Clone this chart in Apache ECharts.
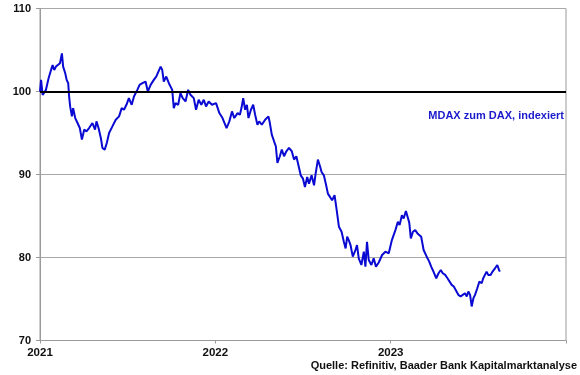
<!DOCTYPE html>
<html>
<head>
<meta charset="utf-8">
<script src="https://cdn.jsdelivr.net/npm/echarts@6/dist/echarts.min.js"></script>
<style>html,body{margin:0;padding:0;background:#fff}#c{width:580px;height:375px}</style>
</head>
<body>
<div id="c"></div>
<script>
// Time in decimal years (2021.0 = start of 2021)
var years = [
2021.000,2021.006,2021.015,2021.024,2021.034,2021.049,2021.063,2021.072,2021.081,2021.091,
2021.101,2021.114,2021.125,2021.132,2021.144,2021.152,2021.161,2021.166,2021.172,2021.182,
2021.189,2021.201,2021.214,2021.227,2021.239,2021.252,2021.265,2021.280,2021.299,2021.314,
2021.322,2021.334,2021.347,2021.356,2021.369,2021.381,2021.394,2021.413,2021.432,2021.451,
2021.466,2021.479,2021.493,2021.507,2021.523,2021.536,2021.555,2021.568,2021.584,2021.602,
2021.615,2021.631,2021.649,2021.663,2021.674,2021.688,2021.697,2021.706,2021.720,2021.735,
2021.754,2021.763,2021.773,2021.788,2021.801,2021.814,2021.830,2021.845,2021.858,2021.877,
2021.890,2021.905,2021.920,2021.934,2021.947,2021.962,2021.981,
2022.004,2022.023,2022.041,2022.064,2022.080,2022.095,2022.108,2022.127,2022.140,2022.149,
2022.159,2022.170,2022.180,2022.189,2022.203,2022.216,2022.227,2022.240,2022.250,2022.265,
2022.284,2022.303,2022.311,2022.322,2022.335,2022.345,2022.354,2022.368,2022.379,2022.392,
2022.405,2022.420,2022.436,2022.449,2022.462,2022.473,2022.487,2022.500,2022.511,2022.524,
2022.534,2022.549,2022.563,2022.572,2022.585,2022.597,2022.606,2022.619,2022.632,2022.642,
2022.652,2022.666,2022.680,2022.691,2022.705,2022.720,2022.733,2022.743,2022.752,2022.761,
2022.771,2022.784,2022.799,2022.808,2022.818,2022.833,2022.847,2022.856,2022.865,2022.875,
2022.890,2022.903,2022.916,2022.932,2022.951,2022.970,2022.989,
2023.007,2023.027,2023.041,2023.051,2023.064,2023.074,2023.087,2023.097,2023.106,2023.115,
2023.127,2023.140,2023.153,2023.163,2023.174,2023.188,2023.197,2023.210,2023.220,2023.231,
2023.240,2023.250,2023.260,2023.273,2023.286,2023.297,2023.311,2023.324,2023.335,2023.348,
2023.360,2023.371,2023.386,2023.399,2023.411,2023.424,2023.434,2023.443,2023.453,2023.462,
2023.472,2023.481,2023.494,2023.506,2023.519,2023.528,2023.538,2023.547,2023.557,2023.570,
2023.581,2023.595,2023.608,2023.618,2023.623
];
// MDAX relative to DAX, indexed (start = 100)
var mdaxRel = [
100.0,101.4,99.6,99.6,100.2,101.6,102.6,103.2,102.6,103.0,
102.8,103.4,104.6,103.0,102.2,101.4,101.0,99.4,98.2,97.0,
98.0,96.8,96.2,95.6,94.2,95.4,95.2,95.6,96.2,95.4,
96.4,95.6,94.4,93.2,93.0,93.8,95.0,95.8,96.6,97.0,
98.0,97.8,98.4,99.2,98.4,99.4,100.2,100.8,101.0,101.2,
100.0,100.8,101.4,101.8,101.6,103.0,102.6,101.2,101.8,101.0,
100.2,98.0,98.6,98.4,99.8,99.2,98.8,100.2,99.6,99.2,
97.8,99.0,98.4,99.0,98.2,98.8,98.4,
98.6,97.4,96.8,95.6,96.4,97.6,96.8,97.4,97.2,98.0,
99.2,97.8,98.4,96.8,97.8,98.4,97.2,96.0,96.4,96.0,
96.6,97.0,96.2,94.8,94.0,93.4,91.4,92.2,93.0,92.2,
92.8,93.2,92.8,91.8,92.2,91.2,89.9,89.5,88.5,89.7,
88.9,89.9,88.7,90.1,91.8,91.0,90.3,89.9,88.7,87.7,
87.9,86.9,87.5,85.9,83.7,83.1,81.9,81.1,82.5,82.1,
81.5,80.1,80.9,81.5,79.9,79.1,80.7,78.9,81.9,79.7,
79.1,79.9,78.9,79.4,80.3,80.7,80.5,
82.1,83.3,84.3,83.9,85.1,84.7,85.6,85.5,84.2,82.3,
83.1,83.3,82.9,83.1,82.5,80.9,81.1,79.9,79.5,78.9,
78.5,78.7,77.5,78.1,78.5,78.1,77.9,77.5,77.7,76.7,
76.5,76.3,75.5,75.3,75.5,75.7,75.3,75.9,75.5,74.1,
75.1,75.5,76.3,77.1,76.9,77.5,77.3,78.3,77.9,77.9,
78.3,78.7,79.1,78.5,78.3
];
var yTicks = [70, 80, 90, 100, 110];
var xTickYears = [2021, 2022, 2023];
var refLevel = 100;
var seriesLabel = 'MDAX zum DAX, indexiert';
var sourceText = 'Quelle: Refinitiv, Baader Bank Kapitalmarktanalyse';

var data = years.map(function (y, i) { return [y, mdaxRel[i]]; });
var font = '"Liberation Sans", Arial, sans-serif';

var chart = echarts.init(document.getElementById('c'), null, {renderer: 'canvas'});
chart.setOption({
  animation: false,
  backgroundColor: '#fff',
  grid: {left: 40, right: 14, top: 8.5, bottom: 34.5, show: true, borderColor: '#9a9a9a', borderWidth: 1, backgroundColor: 'transparent'},
  xAxis: {
    type: 'value', min: 2021, max: 2024, interval: 1,
    axisLine: {show: true, lineStyle: {color: '#9a9a9a', width: 1}},
    axisTick: {show: true, length: 3, lineStyle: {color: '#9a9a9a'}},
    splitLine: {show: false},
    axisLabel: {
      margin: 6, color: '#111', fontFamily: font, fontWeight: 'bold', fontSize: 11.5,
      formatter: function (v) { return xTickYears.indexOf(v) >= 0 ? String(v) : ''; }
    }
  },
  yAxis: {
    type: 'value', min: yTicks[0], max: yTicks[yTicks.length - 1], interval: 10,
    axisLine: {show: true, lineStyle: {color: '#9a9a9a', width: 1}},
    axisTick: {show: true, length: 4, lineStyle: {color: '#9a9a9a'}},
    splitLine: {show: true, lineStyle: {color: '#a8a8a8', width: 1}},
    axisLabel: {margin: 9, color: '#111', fontFamily: font, fontWeight: 'bold', fontSize: 11}
  },
  series: [{
    type: 'line', data: data, showSymbol: false, symbol: 'none',
    lineStyle: {color: '#0a0ad2', width: 2},
    markLine: {
      silent: true, symbol: ['none', 'none'], label: {show: false},
      lineStyle: {color: '#000', width: 2, type: 'solid'},
      data: [{yAxis: refLevel}]
    },
    z: 3
  }],
  graphic: [
    {type: 'text', right: 16, top: 110, style: {text: seriesLabel, fill: '#1a1acc', font: 'bold 11px ' + font}},
    {type: 'text', right: 3, top: 360, style: {text: sourceText, fill: '#111', font: 'bold 11px ' + font}}
  ]
});
</script>
</body>
</html>
